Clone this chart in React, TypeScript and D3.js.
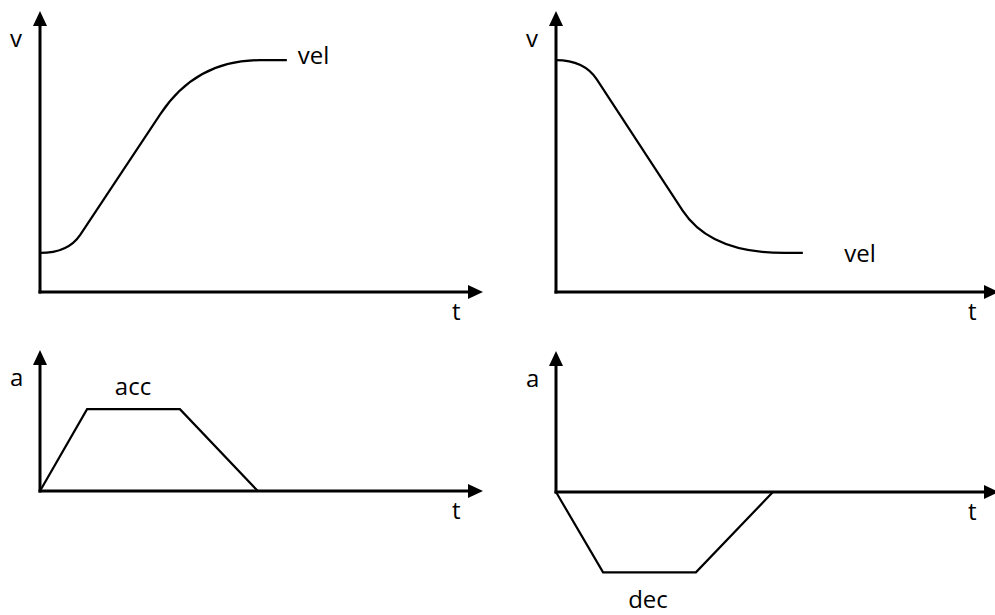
import React from "react";
import * as d3 from "d3";

// ---- Data ----
// time units 0..100 across each panel's t axis; value units 0..100 up the v / a axis.
// Velocity profiles: polyline vertices, rounded at the inner corners.
const velUpTime = [0, 6.4, 35.5, 56.1];
const velUpValue = [13.9, 13.9, 82.5, 82.5];
const velUpBends = [
  [1.0, 0.094],
  [0.28, 0.7],
]; // [fraction of incoming segment, fraction of outgoing segment] per inner vertex

const velDownTime = [0, 6.4, 35.1, 56.1];
const velDownValue = [82.5, 82.5, 13.9, 13.9];
const velDownBends = [
  [1.0, 0.1],
  [0.22, 0.8],
];

const accTime = [0, 10.7, 31.8, 49.5];
const accValue = [0, 58, 58, 0];

const decTime = [0, 10.7, 31.8, 49.3];
const decValue = [0, -57, -57, 0];

const axisLabels = { top: ["v", "t"], bottom: ["a", "t"] };
const curveLabels = ["vel", "vel", "acc", "dec"];

type Panel = {
  x0: number;
  yAxis: number;
  yTop: number;
  times: number[];
  values: number[];
  bends: number[][] | null;
  yLabel: string;
  xLabel: string;
  curveLabel: string;
  curveLabelAt: [number, number];
};

const panels: Panel[] = [
  {
    x0: 40, yAxis: 292, yTop: 11, times: velUpTime, values: velUpValue, bends: velUpBends,
    yLabel: axisLabels.top[0], xLabel: axisLabels.top[1], curveLabel: curveLabels[0],
    curveLabelAt: [58.6, 81.1],
  },
  {
    x0: 556, yAxis: 292, yTop: 11, times: velDownTime, values: velDownValue, bends: velDownBends,
    yLabel: axisLabels.top[0], xLabel: axisLabels.top[1], curveLabel: curveLabels[1],
    curveLabelAt: [65.5, 10.7],
  },
  {
    x0: 40, yAxis: 491, yTop: 350, times: accTime, values: accValue, bends: null,
    yLabel: axisLabels.bottom[0], xLabel: axisLabels.bottom[1], curveLabel: curveLabels[2],
    curveLabelAt: [17, 68],
  },
  {
    x0: 556, yAxis: 492, yTop: 351, times: decTime, values: decValue, bends: null,
    yLabel: axisLabels.bottom[0], xLabel: axisLabels.bottom[1], curveLabel: curveLabels[3],
    curveLabelAt: [16.4, -82.5],
  },
];

const FONT = "'Open Sans', sans-serif";

function roundedPath(pts: [number, number][], bends: number[][]): string {
  const p = d3.path();
  p.moveTo(pts[0][0], pts[0][1]);
  for (let i = 1; i < pts.length - 1; i++) {
    const [fin, fout] = bends[i - 1];
    const prev = pts[i - 1];
    const cur = pts[i];
    const next = pts[i + 1];
    const a: [number, number] = [cur[0] + (prev[0] - cur[0]) * fin, cur[1] + (prev[1] - cur[1]) * fin];
    const b: [number, number] = [cur[0] + (next[0] - cur[0]) * fout, cur[1] + (next[1] - cur[1]) * fout];
    p.lineTo(a[0], a[1]);
    p.quadraticCurveTo(cur[0], cur[1], b[0], b[1]);
  }
  const last = pts[pts.length - 1];
  p.lineTo(last[0], last[1]);
  return p.toString();
}

function PanelView({ p }: { p: Panel }) {
  const xScale = d3.scaleLinear().domain([0, 100]).range([p.x0, p.x0 + 440]);
  const span = p.yAxis - p.yTop;
  const yScale = d3.scaleLinear().domain([0, 100]).range([p.yAxis, p.yAxis - span]);

  const pts: [number, number][] = p.times.map((t, i) => [xScale(t), yScale(p.values[i])]);
  const d = p.bends
    ? roundedPath(pts, p.bends)
    : d3.line<[number, number]>().x((q) => q[0]).y((q) => q[1])(pts) || "";

  const ax = xScale(0);
  const tipX = xScale(100) + 3;
  const tipY = p.yTop;
  const ah = 15;
  const aw = 7;

  return (
    <g>
      <line x1={ax} y1={p.yAxis + 1.5} x2={ax} y2={tipY + ah - 1} stroke="#000" strokeWidth={3} />
      <path d={`M${ax},${tipY} L${ax - aw},${tipY + ah} L${ax + aw},${tipY + ah} Z`} fill="#000" />
      <line x1={ax - 1.5} y1={p.yAxis} x2={tipX - ah + 1} y2={p.yAxis} stroke="#000" strokeWidth={3} />
      <path d={`M${tipX},${p.yAxis} L${tipX - ah},${p.yAxis - aw} L${tipX - ah},${p.yAxis + aw} Z`} fill="#000" />
      <path d={d} fill="none" stroke="#000" strokeWidth={2.2} strokeLinejoin="miter" />
      <text x={ax - 30} y={tipY + 36} fontFamily={FONT} fontSize={24} fill="#000">{p.yLabel}</text>
      <text x={tipX - 31} y={p.yAxis + 28} fontFamily={FONT} fontSize={24} fill="#000">{p.xLabel}</text>
      <text x={xScale(p.curveLabelAt[0])} y={yScale(p.curveLabelAt[1])} fontFamily={FONT} fontSize={24} fill="#000">
        {p.curveLabel}
      </text>
    </g>
  );
}

export default function App() {
  return (
    <div style={{ position: "fixed", left: 0, top: 0, width: 995, height: 615, background: "#fff" }}>
      <svg width={995} height={615} style={{ display: "block" }}>
        <rect width={995} height={615} fill="#fff" />
        {panels.map((p, i) => (
          <PanelView key={i} p={p} />
        ))}
      </svg>
    </div>
  );
}
